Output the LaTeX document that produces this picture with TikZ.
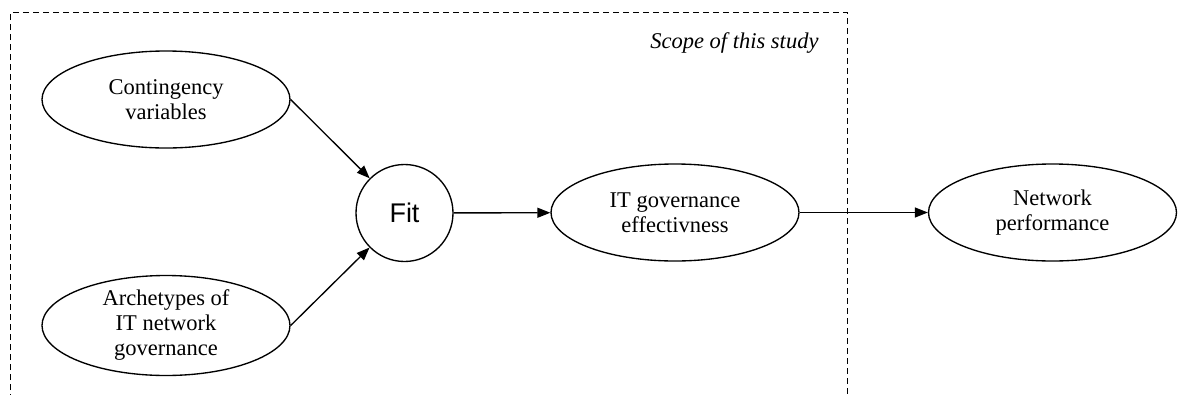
\documentclass[tikz,border=0pt]{standalone}
\usepackage{fontspec}
\setmainfont{Liberation Serif}
\newfontfamily\arialfont{Liberation Sans}
\usetikzlibrary{shapes.geometric,arrows.meta}
\begin{document}
\begin{tikzpicture}[x=1pt,y=-1pt,
  oval/.style={draw,line width=1.35pt,ellipse,minimum width=248pt,minimum height=97pt,inner sep=0pt,align=center,font=\fontsize{22.5}{25}\selectfont},
  fitc/.style={draw,line width=1.35pt,circle,minimum size=97pt,inner sep=0pt,font=\arialfont\fontsize{27}{30}\selectfont},
  conn/.style={line width=1.35pt,-{Triangle[length=13pt,width=10pt]}},
  scopebox/.style={line width=1.2pt,dash pattern=on 6pt off 4pt}]
\useasboundingbox (0,0) rectangle (1178,394);
\draw[scopebox] (10.5,400) -- (10.5,12.5) -- (847.5,12.5) -- (847.5,400);
\node[font=\itshape\fontsize{22.5}{25}\selectfont,anchor=base east] (scope) at (822,48) {Scope of this study};
\node[oval] (cont) at (166,99.5) {Contingency\\variables};
\node[oval] (arch) at (166,325.5) {Archetypes of\\IT network\\governance};
\node[fitc] (fit) at (404.5,213) {Fit};
\node[oval] (itg) at (675,212.5) {IT governance\\effectivness};
\node[oval] (np) at (1052.5,212.5) {Network\\performance};
\draw[conn] (cont.east) -- (fit);
\draw[conn] (arch.east) -- (fit);
\draw[conn] (fit) -- (itg);
\draw[conn] (itg) -- (np);
\end{tikzpicture}
\end{document}
